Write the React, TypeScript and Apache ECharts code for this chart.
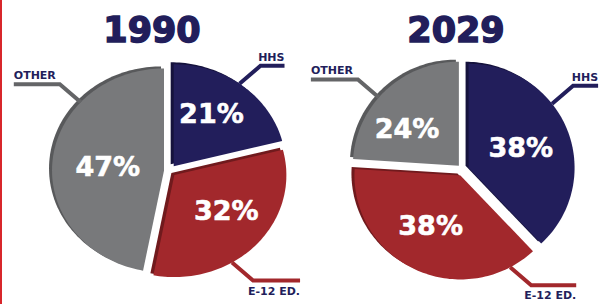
import React, { useEffect, useRef } from 'react';
import * as echarts from 'echarts';

const categories = ['HHS', 'E-12 ED.', 'OTHER'];
const years = ['1990', '2029'];
const shares1990 = [21, 32, 47];
const shares2029 = [38, 38, 24];

const COLORS = ['#221e5b', '#a2282c', '#78797b'];
const DEPTH = ['#15123c', '#701a1d', '#58595b'];
const LINE = ['#221e5b', '#a2282c', '#646567'];
const TEXT = '#221e5b';
const FONT = '"DejaVu Sans", sans-serif';

const OFF = 6;
const DEPTH_DX = -3;
const DEPTH_DY = -2;

const GEO = [
  {
    cx: 170, cy: 171, rx: 112, ry: 102, titleX: 152,
    anchors: [36, 149, 312], tails: [24, 47, 46],
    tdx: [0, 7, 5], tdy: [-8, -3, 1],
  },
  {
    cx: 463, cy: 170, rx: 106, ry: 104, titleX: 456,
    anchors: [52, 152, 311], tails: [25, 45, 47],
    tdx: [-2, -5, -12], tdy: [1, -2, 5],
  },
];
const SHARES = [shares1990, shares2029];

const rad = (d: number) => (d * Math.PI) / 180;

function makeRender(pi: number) {
  return (params: any, api: any) => {
    const g = GEO[pi];
    const vals = SHARES[pi];
    const i = params.dataIndex;
    const v = api.value(0);
    const total = vals.reduce((s, x) => s + x, 0);
    const before = vals.slice(0, i).reduce((s, x) => s + x, 0);
    const start = (before / total) * 360;
    const end = ((before + v) / total) * 360;
    const mid = (start + end) / 2;
    const ax = g.cx + OFF * Math.sin(rad(mid));
    const ay = g.cy - OFF * Math.cos(rad(mid));
    const ell = (a: number, ox: number, oy: number) => [
      ox + g.rx * Math.sin(rad(a)),
      oy - g.ry * Math.cos(rad(a)),
    ];
    const n = Math.max(2, Math.ceil((end - start) / 1.5));
    const pts: number[][] = [[ax, ay]];
    for (let k = 0; k <= n; k++) pts.push(ell(start + ((end - start) * k) / n, ax, ay));
    const depthPts = pts.map((p) => [p[0] + DEPTH_DX, p[1] + DEPTH_DY]);

    // percentage label
    const lp = ell(mid, ax, ay);
    const lx = ax + 0.55 * (lp[0] - ax) + g.tdx[i];
    const ly = ay + 0.55 * (lp[1] - ay) + g.tdy[i];

    // leader line
    const p0 = ell(g.anchors[i], ax, ay);
    const sx = Math.sin(rad(g.anchors[i])) >= 0 ? 1 : -1;
    const sy = -Math.cos(rad(g.anchors[i])) >= 0 ? 1 : -1;
    const p1 = [p0[0] + sx * 21, p0[1] + sy * 18];
    const p2 = [p1[0] + sx * g.tails[i], p1[1]];

    return {
      type: 'group',
      children: [
        { type: 'polygon', z2: 1, shape: { points: depthPts }, style: { fill: DEPTH[i] } },
        { type: 'polygon', z2: 2, shape: { points: pts }, style: { fill: COLORS[i] } },
        {
          type: 'polyline',
          z2: 3,
          shape: { points: [p0, p1, p2] },
          style: { stroke: LINE[i], lineWidth: 4, fill: null },
        },
        {
          type: 'text',
          z2: 4,
          x: lx,
          y: ly,
          style: {
            text: `${v}%`,
            fill: '#ffffff',
            fontFamily: FONT,
            fontWeight: 'bold',
            fontSize: 27,
            align: 'center',
            verticalAlign: 'middle',
            stroke: '#ffffff',
            lineWidth: 0.6,
          },
        },
        {
          type: 'text',
          z2: 4,
          x: p2[0],
          y: sy < 0 ? p1[1] - 3 : p1[1] + 5,
          style: {
            text: categories[i],
            fill: TEXT,
            fontFamily: FONT,
            fontWeight: 'bold',
            fontSize: 11,
            align: sx < 0 ? 'left' : 'right',
            verticalAlign: sy < 0 ? 'bottom' : 'top',
          },
        },
      ],
    };
  };
}

export default function App() {
  const ref = useRef<HTMLDivElement>(null);
  useEffect(() => {
    if (!ref.current) return;
    const chart = echarts.init(ref.current, undefined, { renderer: 'svg' });
    chart.setOption({
      animation: false,
      backgroundColor: '#ffffff',
      title: years.map((y, i) => ({
        text: y,
        left: GEO[i].titleX,
        top: 12,
        padding: 0,
        textAlign: 'center',
        textStyle: {
          color: TEXT,
          fontFamily: FONT,
          fontWeight: 'bold',
          fontSize: 35,
          textBorderColor: TEXT,
          textBorderWidth: 1.5,
        },
      })),
      graphic: [
        { type: 'rect', left: 0, top: 0, shape: { width: 2, height: 304 }, style: { fill: '#d8262b' } },
      ],
      series: SHARES.map((vals, pi) => ({
        type: 'custom',
        coordinateSystem: 'none',
        silent: true,
        renderItem: makeRender(pi),
        data: vals.map((v, i) => ({ name: categories[i], value: [v, i] })),
      })),
    });
    return () => chart.dispose();
  }, []);
  return <div ref={ref} style={{ position: 'fixed', left: 0, top: 0, width: 599, height: 304 }} />;
}
